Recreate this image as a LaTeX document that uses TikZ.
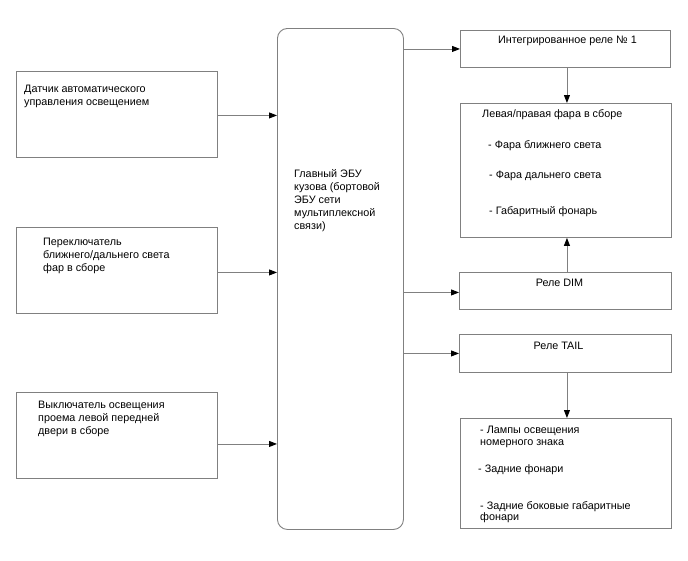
\documentclass[tikz,border=0pt]{standalone}
\usepackage{fontspec}
\setmainfont{Liberation Sans}
\usetikzlibrary{arrows.meta}
\tikzset{
  box/.style={draw=black!50, line width=0.9pt, rectangle, inner sep=0pt, anchor=north west},
  ecubox/.style={box, rounded corners=10pt},
  txt/.style={inner sep=0pt, anchor=north west, align=left, font=\fontsize{10.8}{12.7}\selectfont, execute at begin node=\rule{0pt}{9pt}},
  ctxt/.style={txt, anchor=north, align=center},
  arr/.style={draw=black!50, line width=0.9pt, -{Triangle[length=8pt,width=6pt,color=black]}},
}
\begin{document}
\begin{tikzpicture}[x=1pt,y=-1pt]
\useasboundingbox (0,0) rectangle (688,560);
% left boxes
\node[box, minimum width=201pt, minimum height=86pt] (s1) at (16,71) {};
\node[txt] (s1t) at (24,85.3) {Датчик автоматического\\управления освещением};
\node[box, minimum width=201pt, minimum height=86pt] (s2) at (16,227) {};
\node[txt] (s2t) at (43,238.3) {Переключатель\\ближнего/дальнего света\\фар в сборе};
\node[box, minimum width=201pt, minimum height=86pt] (s3) at (16,392) {};
\node[txt] (s3t) at (38,401) {Выключатель освещения\\проема левой передней\\двери в сборе};
% ECU
\node[ecubox, minimum width=126pt, minimum height=501pt] (ecu) at (277,28) {};
\node[txt, font=\fontsize{10.8}{12.9}\selectfont] (ecut) at (294,169.3) {Главный ЭБУ\\кузова (бортовой\\ЭБУ сети\\мультиплексной\\связи)};
% right boxes
\node[box, minimum width=210pt, minimum height=37pt] (r1) at (460,30) {};
\node[ctxt] (r1t) at (567.5,34.3) {Интегрированное реле № 1};
\node[box, minimum width=211pt, minimum height=134pt] (hl) at (460,103) {};
\node[txt] (hl1) at (482,108.7) {Левая/правая фара в сборе};
\node[txt] (hl2) at (488,139.3) {- Фара ближнего света};
\node[txt] (hl3) at (489,169.3) {- Фара дальнего света};
\node[txt] (hl4) at (489,205.3) {- Габаритный фонарь};
\node[box, minimum width=212pt, minimum height=37pt] (dim) at (459,272) {};
\node[ctxt] (dimt) at (559.5,277.7) {Реле DIM};
\node[box, minimum width=212pt, minimum height=38pt] (tail) at (459,334) {};
\node[ctxt] (tailt) at (558.5,340.3) {Реле TAIL};
\node[box, minimum width=211pt, minimum height=110pt] (rl) at (460,418) {};
\node[txt, font=\fontsize{10.8}{11.7}\selectfont] (rl1) at (480,426) {- Лампы освещения\\номерного знака};
\node[txt] (rl2) at (478,463.7) {- Задние фонари};
\node[txt, font=\fontsize{10.8}{11.7}\selectfont] (rl3) at (480,501) {- Задние боковые габаритные\\фонари};
% connectors
\draw[arr] ([yshift=-1pt]s1.east) -- ([yshift=-1pt]s1.east -| ecu.west);
\draw[arr] ([yshift=-2pt]s2.east) -- ([yshift=-2pt]s2.east -| ecu.west);
\draw[arr] ([yshift=-8.5pt]s3.east) -- ([yshift=-8.5pt]s3.east -| ecu.west);
\draw[arr] (r1.west -| ecu.east) -- (r1.west);
\draw[arr] ([yshift=-1.5pt]dim.west -| ecu.east) -- ([yshift=-1.5pt]dim.west);
\draw[arr] (tail.west -| ecu.east) -- (tail.west);
\draw[arr] ([xshift=1.5pt]r1.south) -- ([xshift=1.5pt]r1.south |- hl.north);
\draw[arr] ([xshift=1.5pt]dim.north) -- ([xshift=1.5pt]dim.north |- hl.south);
\draw[arr] ([xshift=1.5pt]tail.south) -- ([xshift=1.5pt]tail.south |- rl.north);
\end{tikzpicture}
\end{document}
